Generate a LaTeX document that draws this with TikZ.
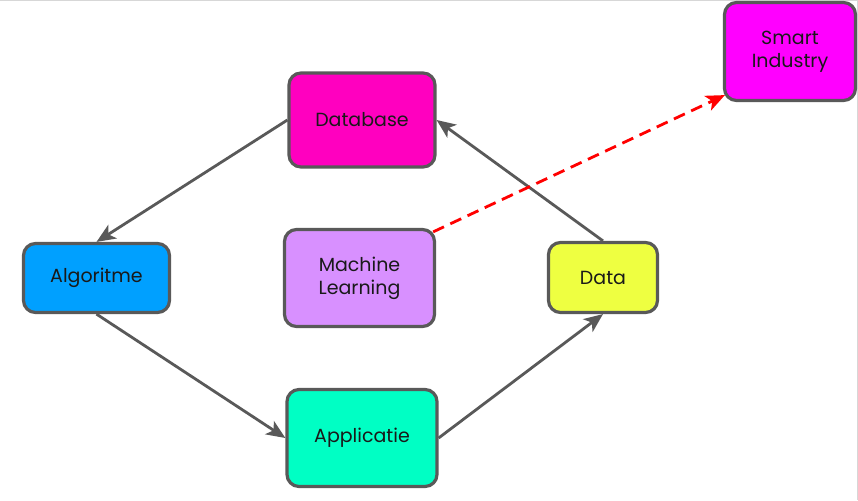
\documentclass[tikz,border=0pt]{standalone}
\usepackage{fontspec}
\setmainfont{Poppins}
\usepackage{tikz}
\usetikzlibrary{arrows.meta}
\definecolor{dbpink}{RGB}{255, 0, 191}
\definecolor{simagenta}{RGB}{255, 0, 255}
\definecolor{algblue}{RGB}{0, 160, 255}
\definecolor{mlviolet}{RGB}{216, 144, 255}
\definecolor{datayellow}{RGB}{238, 255, 65}
\definecolor{appgreen}{RGB}{0, 255, 196}
\definecolor{edgegray}{RGB}{89, 89, 89}
\definecolor{framegray}{RGB}{215, 215, 215}

\begin{document}
\begin{tikzpicture}[x=1pt, y=-1pt,
  box/.style={draw=edgegray, line width=3.2pt, rounded corners=12pt, align=center,
    font=\fontsize{19}{23}\selectfont, text=black!90},
  flow/.style={draw=edgegray, line width=2.8pt, -{Stealth[length=19pt, width=16pt, inset=5pt]}},
  link/.style={draw=red, line width=2.8pt, dash pattern=on 12pt off 7pt,
    -{Stealth[length=19pt, width=16pt, inset=5pt]}}]
\useasboundingbox (0,0) rectangle (858,500);
\draw[framegray, line width=1pt] (0,0.5) -- (857.5,0.5) -- (857.5,500);

% Cycle
\node[box, fill=dbpink, minimum width=146pt, minimum height=94pt] (db) at (362,120) {Database};
\node[box, fill=algblue, minimum width=146pt, minimum height=69pt] (alg) at (96.5,278) {Algoritme};
\node[box, fill=appgreen, minimum width=150pt, minimum height=97pt] (app) at (362,438) {Applicatie};
\node[box, fill=datayellow, minimum width=109pt, minimum height=70pt] (data) at (603,277.5) {Data};

% Centre and goal
\node[box, fill=mlviolet, minimum width=150pt, minimum height=97pt] (ml) at (359.5,278) {Machine\\Learning};
\node[box, fill=simagenta, minimum width=131pt, minimum height=98pt] (smart) at (790,51.5) {Smart\\Industry};

\draw[flow] (db.west) -- (alg.north);
\draw[flow] (alg.south) -- (app.west);
\draw[flow] (app.east) -- (data.south);
\draw[flow] (data.north) -- (db.east);
\draw[link] ([xshift=-3pt, yshift=-4pt]ml.north east) -- ([xshift=2pt, yshift=7pt]smart.south west);
\end{tikzpicture}
\end{document}
